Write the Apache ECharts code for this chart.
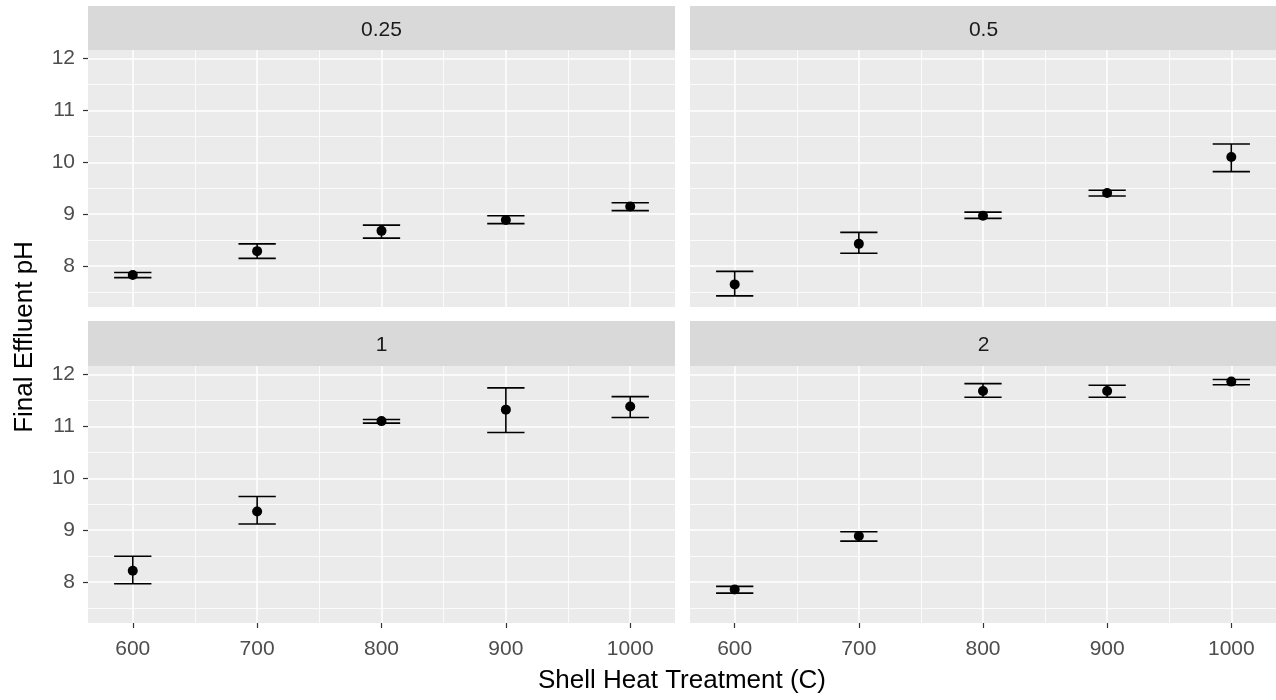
<!DOCTYPE html>
<html>
<head>
<meta charset="utf-8">
<script src="https://cdn.jsdelivr.net/npm/echarts@6.0.0/dist/echarts.min.js"></script>
<style>
  html, body { margin: 0; padding: 0; background: #ffffff; }
  #chart { width: 1276px; height: 700px; }
</style>
</head>
<body>
<div id="chart"></div>
<script>
// Facet labels (shell-to-water ratio) and heat treatment temperatures
const facetLabels = ['0.25', '0.5', '1', '2'];
const temps = [600, 700, 800, 900, 1000];

// Mean final effluent pH with lower / upper error-bar limits, one array per facet
const mean025 = [7.83, 8.29, 8.68, 8.89, 9.15];
const lower025 = [7.78, 8.15, 8.54, 8.82, 9.07];
const upper025 = [7.88, 8.43, 8.79, 8.97, 9.22];

const mean05 = [7.65, 8.43, 8.97, 9.41, 10.10];
const lower05 = [7.43, 8.25, 8.92, 9.35, 9.82];
const upper05 = [7.90, 8.65, 9.04, 9.46, 10.35];

const mean1 = [8.22, 9.36, 11.10, 11.32, 11.38];
const lower1 = [7.97, 9.12, 11.06, 10.88, 11.17];
const upper1 = [8.50, 9.65, 11.13, 11.74, 11.57];

const mean2 = [7.86, 8.89, 11.68, 11.68, 11.86];
const lower2 = [7.79, 8.79, 11.56, 11.56, 11.80];
const upper2 = [7.92, 8.97, 11.82, 11.79, 11.90];

// Axis ticks
const xTicks = [600, 700, 800, 900, 1000];
const xMinor = [650, 750, 850, 950];
const yTicks = [8, 9, 10, 11, 12];
const yMinor = [7.5, 8.5, 9.5, 10.5, 11.5];

const means = [mean025, mean05, mean1, mean2];
const lowers = [lower025, lower05, lower1, lower2];
const uppers = [upper025, upper05, upper1, upper2];

const FONT = '"Liberation Sans", Arial, Helvetica, sans-serif';
const X_MIN = 564, X_MAX = 1036;
const Y_MIN = 7.215, Y_MAX = 12.16;
const CAP_HALF = 15;

const panelLeft = [88, 690];
const panelTop = [50, 366];
const panelW = 587, panelH = 257;
const stripTop = [6, 321];

const plain = v => String(v);

const grids = [], xAxes = [], yAxes = [], series = [], graphics = [];

facetLabels.forEach((lab, i) => {
  const col = i % 2, row = Math.floor(i / 2);
  grids.push({ left: panelLeft[col], top: panelTop[row], width: panelW, height: panelH,
               show: true, backgroundColor: '#EBEBEB', borderWidth: 0 });

  const showX = row === 1, showY = col === 0;

  // major x axis
  xAxes.push({
    type: 'value', gridIndex: i, min: X_MIN, max: X_MAX, position: 'bottom',
    axisLine: { show: false },
    axisTick: { show: showX, customValues: xTicks, length: 5, lineStyle: { color: '#333333', width: 1.2 } },
    axisLabel: { show: showX, customValues: xTicks, formatter: plain, margin: 16, color: '#4D4D4D', fontSize: 21, fontFamily: FONT },
    splitLine: { show: true, lineStyle: { color: '#FFFFFF', width: 1.5 } }
  });
  // minor x grid
  xAxes.push({
    type: 'value', gridIndex: i, min: X_MIN, max: X_MAX,
    axisLine: { show: false },
    axisTick: { show: false, customValues: xMinor },
    axisLabel: { show: false, customValues: xMinor },
    splitLine: { show: true, lineStyle: { color: '#FFFFFF', width: 0.8 } }
  });
  // major y axis
  yAxes.push({
    type: 'value', gridIndex: i, min: Y_MIN, max: Y_MAX,
    axisLine: { show: false },
    axisTick: { show: showY, customValues: yTicks, length: 5, lineStyle: { color: '#333333', width: 1.2 } },
    axisLabel: { show: showY, customValues: yTicks, formatter: plain, margin: 13, color: '#4D4D4D', fontSize: 21, fontFamily: FONT },
    splitLine: { show: true, lineStyle: { color: '#FFFFFF', width: 1.5 } }
  });
  // minor y grid
  yAxes.push({
    type: 'value', gridIndex: i, min: Y_MIN, max: Y_MAX,
    axisLine: { show: false },
    axisTick: { show: false, customValues: yMinor },
    axisLabel: { show: false, customValues: yMinor },
    splitLine: { show: true, lineStyle: { color: '#FFFFFF', width: 0.8 } }
  });

  // error bars
  series.push({
    type: 'custom', xAxisIndex: 2 * i, yAxisIndex: 2 * i, z: 3,
    data: temps.map((t, k) => [t, lowers[i][k], uppers[i][k]]),
    encode: { x: 0, y: [1, 2] },
    renderItem: function (params, api) {
      const x = api.value(0), lo = api.value(1), hi = api.value(2);
      const tl = api.coord([x - CAP_HALF, hi]), tr = api.coord([x + CAP_HALF, hi]);
      const bl = api.coord([x - CAP_HALF, lo]), br = api.coord([x + CAP_HALF, lo]);
      const mt = api.coord([x, hi]), mb = api.coord([x, lo]);
      const st = { stroke: '#000000', lineWidth: 1.6 };
      return {
        type: 'group',
        children: [
          { type: 'line', shape: { x1: tl[0], y1: tl[1], x2: tr[0], y2: tr[1] }, style: st },
          { type: 'line', shape: { x1: bl[0], y1: bl[1], x2: br[0], y2: br[1] }, style: st },
          { type: 'line', shape: { x1: mt[0], y1: mt[1], x2: mb[0], y2: mb[1] }, style: st }
        ]
      };
    }
  });
  // mean points
  series.push({
    type: 'scatter', xAxisIndex: 2 * i, yAxisIndex: 2 * i, z: 4,
    symbol: 'circle', symbolSize: 10,
    itemStyle: { color: '#000000', opacity: 1 },
    emphasis: { disabled: true },
    data: temps.map((t, k) => [t, means[i][k]])
  });

  // facet strip
  graphics.push({
    type: 'rect', silent: true,
    shape: { x: panelLeft[col], y: stripTop[row], width: panelW, height: panelTop[row] - stripTop[row] },
    style: { fill: '#D9D9D9' }
  });
  graphics.push({
    type: 'text', silent: true,
    x: panelLeft[col] + panelW / 2, y: (stripTop[row] + panelTop[row]) / 2 + 2,
    style: { text: lab, fill: '#1A1A1A', font: '21px ' + FONT, textAlign: 'center', textVerticalAlign: 'middle' }
  });
});

// axis titles
graphics.push({
  type: 'text', silent: true, x: 682, y: 681,
  style: { text: 'Shell Heat Treatment (C)', fill: '#000000', font: '26px ' + FONT, textAlign: 'center', textVerticalAlign: 'middle' }
});
graphics.push({
  type: 'text', silent: true, x: 25, y: 337, rotation: Math.PI / 2,
  style: { text: 'Final Effluent pH', fill: '#000000', font: '26px ' + FONT, textAlign: 'center', textVerticalAlign: 'middle' }
});

const chart = echarts.init(document.getElementById('chart'), null, { renderer: 'canvas' });
chart.setOption({
  animation: false,
  backgroundColor: '#FFFFFF',
  grid: grids,
  xAxis: xAxes,
  yAxis: yAxes,
  series: series,
  graphic: graphics
});
</script>
</body>
</html>
